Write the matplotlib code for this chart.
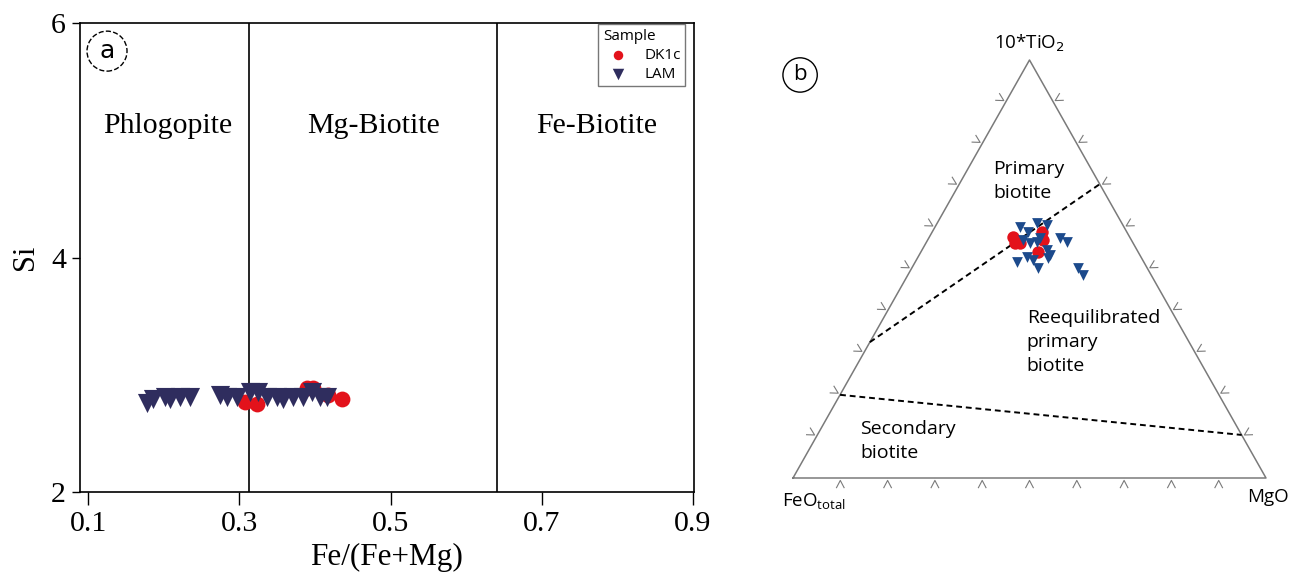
import numpy as np
import matplotlib
matplotlib.use("Agg")
import matplotlib.pyplot as plt

# ---- panel a: Fe/(Fe+Mg) vs Si ----
lam_fe = [0.178, 0.186, 0.202, 0.208, 0.222, 0.235, 0.275, 0.284, 0.297, 0.314,
          0.325, 0.337, 0.350, 0.358, 0.371, 0.384, 0.396, 0.407, 0.416]
lam_si = [2.76, 2.79, 2.81, 2.79, 2.81, 2.81, 2.83, 2.81, 2.81, 2.85,
          2.85, 2.81, 2.81, 2.79, 2.81, 2.81, 2.85, 2.81, 2.81]
dk_fe = [0.308, 0.324, 0.390, 0.398, 0.417, 0.436]
dk_si = [2.77, 2.75, 2.89, 2.89, 2.83, 2.79]
bounds = [0.313, 0.641]
fields = ["Phlogopite", "Mg-Biotite", "Fe-Biotite"]
field_x = [0.205, 0.477, 0.772]

# ---- panel b: ternary 10*TiO2 - FeOtotal - MgO (fractions) ----
lam_t = [0.600, 0.610, 0.605, 0.574, 0.565, 0.569, 0.562, 0.545, 0.517, 0.529,
         0.522, 0.533, 0.502, 0.502, 0.486, 0.589, 0.565, 0.526, 0.574]
lam_m = [0.180, 0.211, 0.235, 0.277, 0.297, 0.202, 0.220, 0.265, 0.215, 0.230,
         0.246, 0.277, 0.267, 0.352, 0.370, 0.202, 0.233, 0.276, 0.235]
dk_t = [0.577, 0.562, 0.589, 0.569, 0.541, 0.562]
dk_m = [0.176, 0.188, 0.232, 0.244, 0.248, 0.199]
# boundary lines: (t, m) at both ends
line1 = [(0.325, 0.0), (0.703, 0.297)]
line2 = [(0.199, 0.0), (0.103, 0.897)]

red = "#e3121b"
navy = "#2f2d5e"
blue = "#1c4a8c"
H = np.sqrt(3) / 2


def txy(t, m):
    t = np.asarray(t, float)
    m = np.asarray(m, float)
    return m + t / 2, t * H


fig = plt.figure(figsize=(12.92, 5.79), dpi=100)

# panel a
ax = fig.add_axes([80 / 1292, 1 - 492 / 579, 614 / 1292, 469 / 579])
serif = "Liberation Serif"
ax.scatter(dk_fe, dk_si, s=130, c=red, marker="o", lw=0, label="DK1c", zorder=3)
ax.scatter(lam_fe, lam_si, s=190, c=navy, marker="v", lw=0, label="LAM", zorder=4)
for b in bounds:
    ax.axvline(b, color="black", lw=1.2, zorder=2)
for name, fx in zip(fields, field_x):
    ax.text(fx, 5.12, name, ha="center", va="center", fontsize=21.5, family=serif)
ax.set_xlim(0.0894, 0.9013)
ax.set_ylim(2, 6)
ax.set_xticks([0.1, 0.3, 0.5, 0.7, 0.9])
ax.set_xticklabels(["0.1", "0.3", "0.5", "0.7", "0.9"])
ax.set_yticks([2, 4, 6])
ax.tick_params(axis="x", length=9, width=1, labelsize=21.5, pad=5)
ax.tick_params(axis="y", length=6, width=1, labelsize=21.5, pad=4)
for lab in ax.get_xticklabels() + ax.get_yticklabels():
    lab.set_family(serif)
for sp in ax.spines.values():
    sp.set_linewidth(1.2)
ax.set_xlabel("Fe/(Fe+Mg)", fontsize=22.5, family=serif, labelpad=4)
ax.set_ylabel("Si", fontsize=22, family=serif, labelpad=8)
leg = ax.legend(loc="upper right", bbox_to_anchor=(0.986, 0.997), title="Sample",
                frameon=True, fancybox=False, edgecolor="#555555", borderpad=0.3,
                handletextpad=0.7, labelspacing=0.25, borderaxespad=0.0,
                prop={"family": "Open Sans", "size": 11}, title_fontsize=11,
                markerscale=0.6)
leg._legend_box.align = "left"
leg.get_title().set_family("Open Sans")
ax.text(0.044, 0.940, "a", transform=ax.transAxes, ha="center", va="center",
        fontsize=18, family="DejaVu Sans",
        bbox=dict(boxstyle="circle,pad=0.32", fc="white", ec="black", ls="--", lw=1))

# panel b
tx = fig.add_axes([793 / 1292, 1 - 478 / 579, 473 / 1292, 418 / 579])
tx.set_xlim(0, 1)
tx.set_ylim(0, H)
tx.axis("off")
gray = "#7a7a7a"
tx.plot([0, 1, 0.5, 0], [0, 0, H, 0], color=gray, lw=1.1, clip_on=False)

# chevron ticks on each side
verts = [np.array([0.0, 0.0]), np.array([1.0, 0.0]), np.array([0.5, H])]
for a, b, c in [(0, 1, 2), (1, 2, 0), (2, 0, 1)]:
    pa, pb, pc = verts[a], verts[b], verts[c]
    tang = (pb - pa) / np.linalg.norm(pb - pa)
    mid = (pa + pb) / 2
    nin = (pc - mid) / np.linalg.norm(pc - mid)
    for i in range(1, 10):
        p = pa + (pb - pa) * i / 10
        tip = p - nin * 0.005
        l1 = p - nin * 0.02 + tang * 0.008
        l2 = p - nin * 0.02 - tang * 0.008
        tx.plot([l1[0], tip[0], l2[0]], [l1[1], tip[1], l2[1]], color=gray,
                lw=0.8, clip_on=False)

for ln in (line1, line2):
    xs, ys = txy([p[0] for p in ln], [p[1] for p in ln])
    tx.plot(xs, ys, color="black", lw=1.4, ls=(0, (3, 2)), clip_on=False)

x, y = txy(dk_t, dk_m)
tx.scatter(x, y, s=80, c=red, marker="o", lw=0, zorder=3, clip_on=False)
x, y = txy(lam_t, lam_m)
tx.scatter(x, y, s=60, c=blue, marker="v", lw=0, zorder=4, clip_on=False)

sans = "Open Sans"
tx.text(0.5, H + 0.012, "10*TiO$_2$", ha="center", va="bottom", fontsize=13.5,
        family=sans)
tx.text(0.045, -0.028, "FeO$_{\\mathregular{total}}$", ha="center", va="top",
        fontsize=13.5, family=sans)
tx.text(1.005, -0.02, "MgO", ha="center", va="top", fontsize=13.5, family=sans)
tx.text(0.423, 0.615, "Primary\nbiotite", ha="left", va="center", fontsize=14,
        family=sans, linespacing=1.45)
tx.text(0.494, 0.282, "Reequilibrated\nprimary\nbiotite", ha="left", va="center",
        fontsize=14, family=sans, linespacing=1.45)
tx.text(0.142, 0.077, "Secondary\nbiotite", ha="left", va="center", fontsize=14,
        family=sans, linespacing=1.45)
tx.text(0.015, 0.835, "b", ha="center", va="center", fontsize=16, family=sans,
        bbox=dict(boxstyle="circle,pad=0.3", fc="white", ec="black", lw=1),
        clip_on=False)

fig.savefig("out.png", dpi=100)
